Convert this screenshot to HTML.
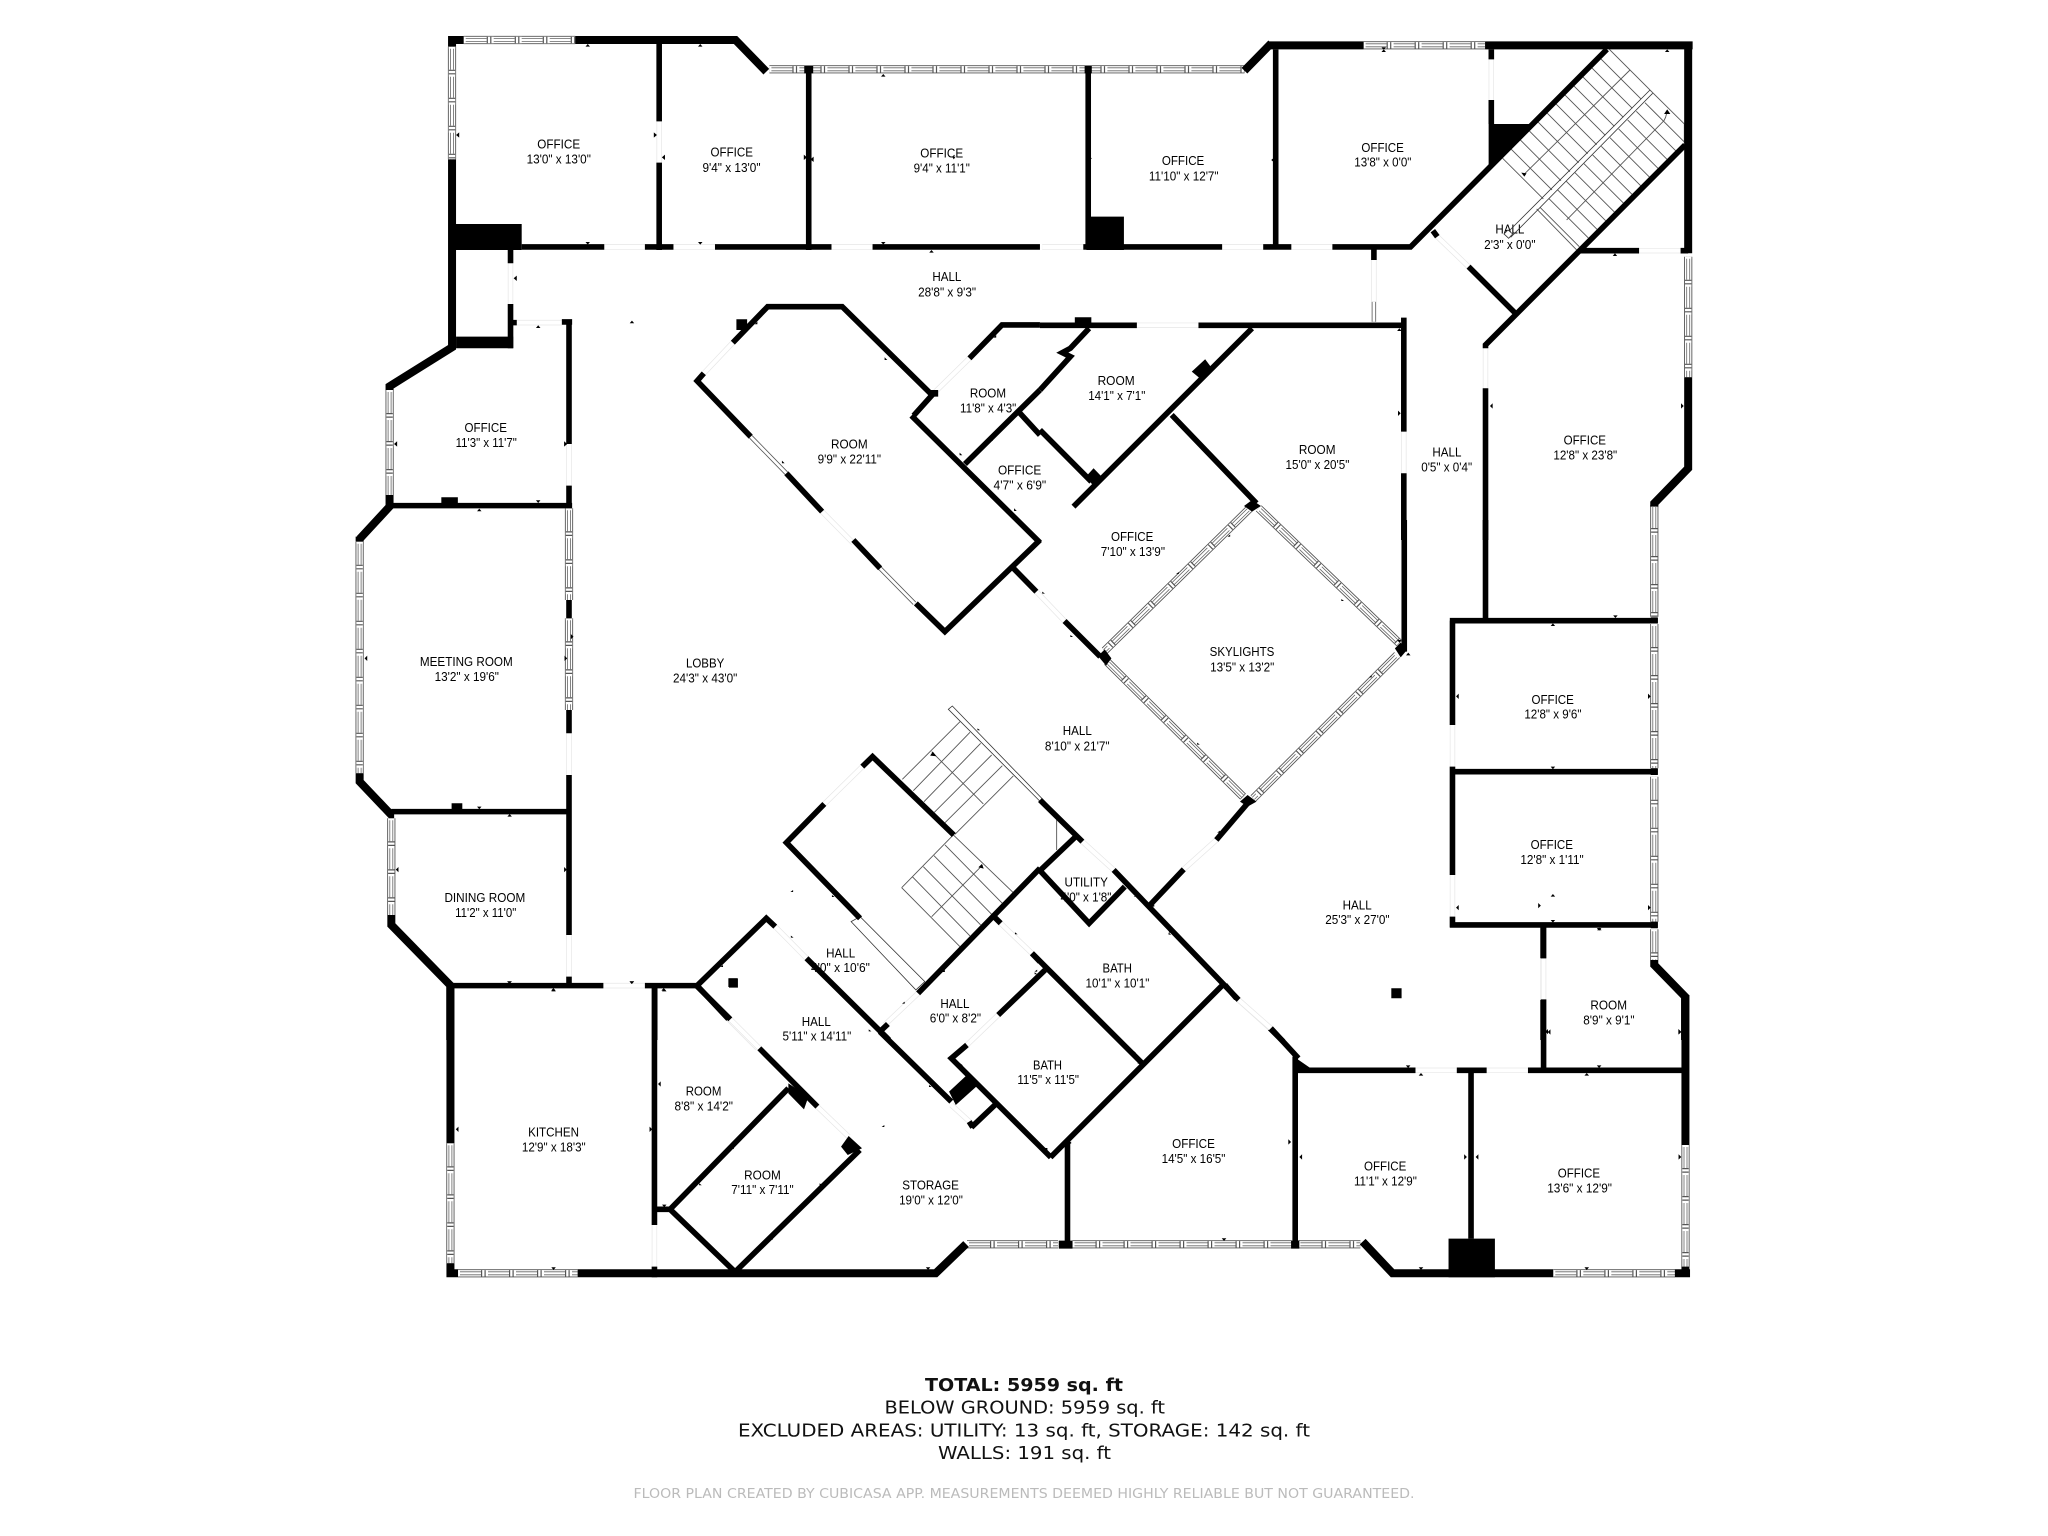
<!DOCTYPE html>
<html><head><meta charset="utf-8"><title>Floor plan</title>
<style>
html,body{margin:0;padding:0;background:#fff}
svg{display:block}
.o,.i,.h,.s,.dg,.dw{fill:none;vector-effect:non-scaling-stroke}
.o{stroke:#000;stroke-width:8}
.i{stroke:#000;stroke-width:5.6}
.h{stroke:#333;stroke-width:.8}
.s{stroke:#555;stroke-width:.9}
.dg{stroke:#e6e6e6;stroke-width:5.4}
.dw{stroke:#fff;stroke-width:4}
.t text{font-family:"Liberation Sans",sans-serif;font-size:39px;fill:#000}
.f text{font-family:"DejaVu Sans","Liberation Sans",sans-serif}
</style></head><body>
<svg xmlns="http://www.w3.org/2000/svg" width="2048" height="1536" viewBox="0 0 2048 1536">
<rect width="2048" height="1536" fill="#fff"/>
<defs>
<path id="w" d="M463.7 40H575.3M452 46.7V159.3M769.4 69.3H1244.5M1363.6 45.3H1485M1688.2 256.7V377.3M1654.3 505V616.7M1654.3 624V768.3M1654.3 776.7V921.7M1654.3 929.3V960M1685.5 1145V1266.7M1553.3 1273.3H1675M967 1244.3H1058M1072.5 1244.3H1291.5M1298.4 1244.3H1360.4M458 1273.3H577.7M450.4 1143.3V1263.3M391.3 818.3V915M359.6 541.7V773.3M389.6 390V495M569 508.3V600M569 618.3V710M1249.8 508.3L1104.7 650.7M1258.7 508.3L1399.4 643.3M1397.1 655L1253.4 798.3M1107 661.7L1243.1 796.7"/>
</defs>

<!-- labels -->
<g class="t" transform="translate(340,20) scale(.4464,.3333)">
<text x="442" y="385" textLength="96" lengthAdjust="spacingAndGlyphs">OFFICE</text><text x="418" y="431" textLength="144" lengthAdjust="spacingAndGlyphs">13'0" x 13'0"</text>
<text x="830" y="410" textLength="95" lengthAdjust="spacingAndGlyphs">OFFICE</text><text x="812" y="456" textLength="130" lengthAdjust="spacingAndGlyphs">9'4" x 13'0"</text>
<text x="1300" y="413" textLength="96" lengthAdjust="spacingAndGlyphs">OFFICE</text><text x="1285" y="457" textLength="126" lengthAdjust="spacingAndGlyphs">9'4" x 11'1"</text>
<text x="1327" y="783" textLength="65" lengthAdjust="spacingAndGlyphs">HALL</text><text x="1295" y="829" textLength="130" lengthAdjust="spacingAndGlyphs">28'8" x 9'3"</text>
<text x="279" y="1236" textLength="95" lengthAdjust="spacingAndGlyphs">OFFICE</text><text x="259" y="1281" textLength="137" lengthAdjust="spacingAndGlyphs">11'3" x 11'7"</text>
<text x="1100" y="1285" textLength="82" lengthAdjust="spacingAndGlyphs">ROOM</text><text x="1070" y="1330" textLength="142" lengthAdjust="spacingAndGlyphs">9'9" x 22'11"</text>
<text x="1411" y="1132" textLength="81" lengthAdjust="spacingAndGlyphs">ROOM</text><text x="1389" y="1177" textLength="126" lengthAdjust="spacingAndGlyphs">11'8" x 4'3"</text>
<text x="1474" y="1363" textLength="97" lengthAdjust="spacingAndGlyphs">OFFICE</text><text x="1464" y="1408" textLength="118" lengthAdjust="spacingAndGlyphs">4'7" x 6'9"</text>
</g>
<g class="t" transform="translate(1040,20) scale(.4464,.3333)">
<text x="273" y="435" textLength="95" lengthAdjust="spacingAndGlyphs">OFFICE</text><text x="244" y="481" textLength="156" lengthAdjust="spacingAndGlyphs">11'10" x 12'7"</text>
<text x="720" y="396" textLength="95" lengthAdjust="spacingAndGlyphs">OFFICE</text><text x="704" y="439" textLength="128" lengthAdjust="spacingAndGlyphs">13'8" x 0'0"</text>
<text x="1020" y="641" textLength="65" lengthAdjust="spacingAndGlyphs">HALL</text><text x="995" y="687" textLength="115" lengthAdjust="spacingAndGlyphs">2'3" x 0'0"</text>
<text x="129" y="1095" textLength="83" lengthAdjust="spacingAndGlyphs">ROOM</text><text x="108" y="1140" textLength="128" lengthAdjust="spacingAndGlyphs">14'1" x 7'1"</text>
<text x="580" y="1302" textLength="82" lengthAdjust="spacingAndGlyphs">ROOM</text><text x="550" y="1347" textLength="143" lengthAdjust="spacingAndGlyphs">15'0" x 20'5"</text>
<text x="879" y="1310" textLength="65" lengthAdjust="spacingAndGlyphs">HALL</text><text x="854" y="1355" textLength="114" lengthAdjust="spacingAndGlyphs">0'5" x 0'4"</text>
<text x="1173" y="1274" textLength="95" lengthAdjust="spacingAndGlyphs">OFFICE</text><text x="1150" y="1319" textLength="143" lengthAdjust="spacingAndGlyphs">12'8" x 23'8"</text>
</g>
<g class="t" transform="translate(340,520) scale(.4464,.3333)">
<text x="179" y="438" textLength="208" lengthAdjust="spacingAndGlyphs">MEETING ROOM</text><text x="212" y="483" textLength="144" lengthAdjust="spacingAndGlyphs">13'2" x 19'6"</text>
<text x="775" y="442" textLength="86" lengthAdjust="spacingAndGlyphs">LOBBY</text><text x="746" y="487" textLength="144" lengthAdjust="spacingAndGlyphs">24'3" x 43'0"</text>
<text x="234" y="1146" textLength="181" lengthAdjust="spacingAndGlyphs">DINING ROOM</text><text x="258" y="1191" textLength="137" lengthAdjust="spacingAndGlyphs">11'2" x 11'0"</text>
<text x="1089" y="1312" textLength="65" lengthAdjust="spacingAndGlyphs">HALL</text><text x="1055" y="1356" textLength="132" lengthAdjust="spacingAndGlyphs">4'0" x 10'6"</text>
<text x="1345" y="1464" textLength="65" lengthAdjust="spacingAndGlyphs">HALL</text><text x="1321" y="1508" textLength="115" lengthAdjust="spacingAndGlyphs">6'0" x 8'2"</text>
</g>
<g class="t" transform="translate(1040,520) scale(.4464,.3333)">
<text x="159" y="63" textLength="95" lengthAdjust="spacingAndGlyphs">OFFICE</text><text x="136" y="108" textLength="144" lengthAdjust="spacingAndGlyphs">7'10" x 13'9"</text>
<text x="380" y="408" textLength="145" lengthAdjust="spacingAndGlyphs">SKYLIGHTS</text><text x="381" y="454" textLength="144" lengthAdjust="spacingAndGlyphs">13'5" x 13'2"</text>
<text x="51" y="645" textLength="65" lengthAdjust="spacingAndGlyphs">HALL</text><text x="11" y="691" textLength="145" lengthAdjust="spacingAndGlyphs">8'10" x 21'7"</text>
<text x="1101" y="552" textLength="95" lengthAdjust="spacingAndGlyphs">OFFICE</text><text x="1085" y="596" textLength="128" lengthAdjust="spacingAndGlyphs">12'8" x 9'6"</text>
<text x="1099" y="987" textLength="95" lengthAdjust="spacingAndGlyphs">OFFICE</text><text x="1076" y="1032" textLength="142" lengthAdjust="spacingAndGlyphs">12'8" x 1'11"</text>
<text x="678" y="1168" textLength="65" lengthAdjust="spacingAndGlyphs">HALL</text><text x="639" y="1212" textLength="144" lengthAdjust="spacingAndGlyphs">25'3" x 27'0"</text>
<text x="55" y="1099" textLength="97" lengthAdjust="spacingAndGlyphs">UTILITY</text><text x="46" y="1144" textLength="114" lengthAdjust="spacingAndGlyphs">4'0" x 1'8"</text>
<text x="140" y="1358" textLength="66" lengthAdjust="spacingAndGlyphs">BATH</text><text x="102" y="1403" textLength="143" lengthAdjust="spacingAndGlyphs">10'1" x 10'1"</text>
<text x="1233" y="1468" textLength="82" lengthAdjust="spacingAndGlyphs">ROOM</text><text x="1217" y="1513" textLength="115" lengthAdjust="spacingAndGlyphs">8'9" x 9'1"</text>
</g>
<g class="t" transform="translate(400,920) scale(.4464,.3333)">
<text x="900" y="318" textLength="65" lengthAdjust="spacingAndGlyphs">HALL</text><text x="857" y="362" textLength="154" lengthAdjust="spacingAndGlyphs">5'11" x 14'11"</text>
<text x="640" y="527" textLength="80" lengthAdjust="spacingAndGlyphs">ROOM</text><text x="615" y="571" textLength="131" lengthAdjust="spacingAndGlyphs">8'8" x 14'2"</text>
<text x="287" y="650" textLength="114" lengthAdjust="spacingAndGlyphs">KITCHEN</text><text x="273" y="695" textLength="143" lengthAdjust="spacingAndGlyphs">12'9" x 18'3"</text>
<text x="771" y="778" textLength="82" lengthAdjust="spacingAndGlyphs">ROOM</text><text x="742" y="822" textLength="140" lengthAdjust="spacingAndGlyphs">7'11" x 7'11"</text>
<text x="1125" y="808" textLength="127" lengthAdjust="spacingAndGlyphs">STORAGE</text><text x="1118" y="854" textLength="143" lengthAdjust="spacingAndGlyphs">19'0" x 12'0"</text>
<text x="1418" y="448" textLength="65" lengthAdjust="spacingAndGlyphs">BATH</text><text x="1383" y="492" textLength="138" lengthAdjust="spacingAndGlyphs">11'5" x 11'5"</text>
</g>
<g class="t" transform="translate(1000,920) scale(.4591,.3333)">
<text x="375" y="684" textLength="93" lengthAdjust="spacingAndGlyphs">OFFICE</text><text x="352" y="729" textLength="139" lengthAdjust="spacingAndGlyphs">14'5" x 16'5"</text>
<text x="793" y="751" textLength="92" lengthAdjust="spacingAndGlyphs">OFFICE</text><text x="771" y="796" textLength="137" lengthAdjust="spacingAndGlyphs">11'1" x 12'9"</text>
<text x="1215" y="772" textLength="92" lengthAdjust="spacingAndGlyphs">OFFICE</text><text x="1192" y="817" textLength="141" lengthAdjust="spacingAndGlyphs">13'6" x 12'9"</text>
</g>

<!-- windows -->
<g fill="none">
<use href="#w" stroke="#555" stroke-width="8.2"/>
<use href="#w" stroke="#fff" stroke-width="6.4"/>
<use href="#w" stroke="#666" stroke-width="3.8"/>
<use href="#w" stroke="#fff" stroke-width="2.2"/>
<use href="#w" stroke="#fff" stroke-width="6.4" stroke-dasharray="7 21" stroke-dashoffset="5"/>
<use href="#w" stroke="#555" stroke-width="6.4" stroke-dasharray="1.2 2.3 1.2 23.3" stroke-dashoffset="5"/>
<path d="M750.7 436.7L786.4 473.3M880.1 568.3L914.5 603.3M1373.9 301.7V321.7" stroke="#555" stroke-width="4.4"/>
<path d="M750.7 436.7L786.4 473.3M880.1 568.3L914.5 603.3M1373.9 301.7V321.7" stroke="#fff" stroke-width="2.8"/>
</g>

<!-- upper-right stair -->
<g transform="translate(1440,30) scale(.3333)">
<path class="s" d="M508 58l122 122M481 85l122 122M455 113l122 122M428 140l122 122M401 167l122 122M374 194l122 122M348 222l122 122M321 249l122 122M294 276l122 122M268 303l122 122M241 330l122 122M214 358l122 122M188 385l122 122M570 120L250 435M615 218l118 118M589 244l118 118M563 270l118 118M536 297l118 118M510 323l118 118M484 349l118 118M458 375l118 118M432 401l118 118M405 428l118 118M379 454l118 118M353 480l118 118M327 506l118 118M300 532l118 118M290 537L410 660M380 570L672 272Q678 262 680 250M630 180L733 282M733 282V340"/>
<path class="h" d="M630 180L195 615M638 190L212 622"/>
<path d="M192 612L204 600L218 612L206 625z" fill="#fff" stroke="#333" stroke-width=".8" vector-effect="non-scaling-stroke"/>
</g>

<!-- middle stair -->
<g transform="translate(890,700) scale(.3333)">
<path class="s" d="M37 238L210 65M70 272L240 97M102 305L272 130M133 337L305 165M165 368L337 197M195 403L370 228M125 155L280 312M35 563L210 740M67 530L240 708M100 500L272 675M132 467L305 643M165 435L337 610M35 563L190 405M190 405L370 578M125 650L278 495M500 360V450"/>
<path class="h" d="M175 28L187 18L465 305L458 312z"/>
</g>

<!-- Z1 -->
<g transform="translate(340,20) scale(.4464,.3333)">
<path class="dg" d="M592,681H683M747,681H840M1101,681H1193M715,304V428M382,730V852M513,1272V1397M396,908H497M815,1060L880,968M1330,1120L1410,1015M1080,1475L1150,1570"/>
<path class="dw" d="M592,681H683M747,681H840M1101,681H1193M715,304V428M382,730V852M513,1272V1397M396,908H497M815,1060L880,968M1330,1120L1410,1015M1080,1475L1150,1570"/>
<path class="o" d="M243,60H277M527,60H886L955,155M251,48V80M251,418V982L111,1099V1110M111,1425V1460L44,1557"/>
<path class="i" d="M407,681H592M683,681H747M840,681H1101M1193,681H1568M715,72V304M715,428V690M1050,150V690M382,690V730M382,852V985M382,908H396M497,906H520M513,900V1272M513,1397V1465M111,1457H520M880,968L958,860H1125L1330,1130M815,1060L800,1083L920,1250M1000,1360L1080,1475M1280,1187L1568,1568M1330,1120L1285,1187M1410,1015L1483,915H1568M1400,1332L1568,1110M1520,1175L1568,1245"/>
<path d="M243,612h164v78h-164zM260,950h128v35h-128zM227,1432h37v18h-37zM1040,138h20v22h-20zM888,898h24v32h-24zM1318,1110h22v20h-22z"/>
<path d="M555,72l-5,8h10zM807,72l-5,8h10zM1217,162l-5,8h10zM1325,690l-5,8h10zM654,902l-5,8h10zM444,916l-5,8h10zM312,1466l-5,8h10zM555,674l-5,-8h10zM807,674l-5,-8h10zM1217,674l-5,-8h10zM444,1449l-5,-8h10zM260,345l7,-8v16zM710,345l-7,-8v16zM721,412l7,-8v16zM1046,412l-7,-8v16zM1054,418l7,-8v16zM389,775l7,-8v16zM121,1272l7,-8v16zM509,1272l-7,-8v16zM1220,1012l6,8h-6zM935,905l-6,8h6zM1470,945l-6,8h6zM1388,1298l6,8h-6zM1462,1255l-6,8h6zM1510,1465l6,8h-6zM990,1322l6,8h-6zM1375,418l-4,-8h8z"/>
</g>

<!-- Z2 -->
<g transform="translate(1040,20) scale(.4464,.3333)">
<path class="dg" d="M5,681H97M408,681H500M563,681H655M1011,118V240M890,650L960,740M998,985V1105M1342,692H1435M217,916H355M815,1235V1360M748,720V845"/>
<path class="dw" d="M5,681H97M408,681H500M563,681H655M1011,118V240M890,650L960,740M998,985V1105M1342,692H1435M217,916H355M815,1235V1360M748,720V845"/>
<path class="o" d="M512,76H725M997,76H1462M458,152L518,70M1452,65V700M1452,1072V1345L1376,1450V1460"/>
<path class="i" d="M108,140V685M528,88V680M97,681H408M500,681H563M655,681H830L1270,88M1011,88V118M1011,240V312M880,632L890,650M960,740L1065,880M1445,375L998,975V985M998,1105V1560M1210,692H1342M1435,692H1452M748,688V720M0,916H217M355,916H815M815,893V1235M815,1360V1560M110,925L68,985L50,998L68,1010L0,1110M475,925L75,1460M295,1185L485,1450M0,1230L115,1385"/>
<path d="M100,138h16v22h-16zM104,590h84v100h-84zM78,892h37v23h-37zM1005,312h95L1005,435zM340,1055L370,1018L388,1050L358,1075zM103,1370L120,1345L138,1370L118,1395zM457,1458L475,1440L495,1458L475,1475z"/>
<path d="M1405,268l7,14l-14,0zM1085,470l-7,-12l12,2zM770,88l-5,8h10zM770,90l-5,-8h10zM518,420l7,-8v16zM116,415l-7,-8v16zM1405,88l-5,8h10zM1288,700l-5,8h10zM517,672l-5,8h10zM1008,1158l6,-8v16zM1442,1158l-6,-8v16zM808,1180l-6,-8v16zM805,925l-5,8h10z"/>
</g>

<!-- Z3 -->
<g transform="translate(340,520) scale(.4464,.3333)">
<path class="h" d="M1145,1205L1165,1190L1310,1385L1290,1410z"/>
<path class="dg" d="M513,640V765M513,1245V1370M590,1397H683M975,1220L1045,1315M870,1497L935,1585M1295,1420L1220,1515M1480,1210L1550,1300M1085,852L1170,740M1560,215L1623,303"/>
<path class="dw" d="M513,640V765M513,1245V1370M590,1397H683M975,1220L1045,1315M870,1497L935,1585M1295,1420L1220,1515M1480,1210L1550,1300M1085,852L1170,740M1560,215L1623,303"/>
<path class="o" d="M44,50V65M44,760V785L115,885M115,1185V1215L250,1400M247,1395V1560"/>
<path class="i" d="M115,875V895M115,875H513M513,240V295M513,570V640M513,765V1245M513,1370V1405M250,1397H590M683,1397H800M705,1397V1560M1150,60L1210,145M1290,250L1355,335L1568,60M1505,140L1560,215M1085,852L1000,968L1165,1195M1170,740L1193,710L1375,945M1295,1420L1568,1045M1465,1190L1480,1210M1550,1300L1568,1325M800,1397L955,1195L975,1220M1045,1315L1230,1560M800,1397L870,1497"/>
<path d="M250,850h24v18h-24zM870,1375h20v26h-20z"/>
<path d="M1328,695l8,14l-14,-2zM1438,1032l4,14l-12,-4zM312,868l-5,-8h10zM380,882l-5,8h10zM380,1392l-5,-8h10zM478,1404l-5,8h10zM654,1392l-5,-8h10zM725,1404l-5,8h10zM523,350l-6,-8v16zM509,415l-6,-8v16zM55,415l6,-8v16zM125,1049l6,-8v16zM508,1049l-6,-8v16zM1428,625l6,6h-6zM1015,1110l-6,6h6zM1102,1125l6,6h-6zM1010,1247l6,6h-6zM858,1335l-6,6h6zM1355,1350l-6,6h6zM1265,1445l-6,6h6zM1512,1237l6,6h-6zM1556,1357l6,6h-6z"/>
</g>

<!-- Z4 -->
<g transform="translate(1040,520) scale(.4464,.3333)">
<path class="dg" d="M95,965L165,1050M395,960L322,1048M445,1440L515,1525M924,615V740M924,1065V1190M1127,1315V1440"/>
<path class="dw" d="M95,965L165,1050M395,960L322,1048M445,1440L515,1525M924,615V740M924,1065V1190M1127,1315V1440"/>
<path class="o" d="M1376,1320V1335L1445,1430V1560"/>
<path class="i" d="M998,0V300M918,302H1384M924,302V615M924,740V1065M924,1190V1222M918,755H1384M918,1215H1384M1127,1222V1315M1127,1440V1560M816,0V395M55,303L135,410M465,850L395,960M322,1048L245,1157M0,840L95,965M165,1050L445,1440M515,1525L545,1565M80,950L0,1052L110,1210L190,1100M-18,1300L229,1630"/>
<path d="M1368,292h16v18h-16zM1368,745h16v20h-16zM1368,1205h16v20h-16zM795,385L808,368L822,390L808,412zM130,408L145,388L160,415L148,437zM448,845L465,825L485,845L465,860zM787,1405h23v30h-23z"/>
<path d="M1289,294l-5,-8h10zM1149,310l-5,8h10zM1149,748l-5,-8h10zM1149,1208l-5,-8h10zM1253,1223l-5,8h10zM1149,1122l-5,8h10zM932,529l6,-8v16zM1368,529l-6,-8v16zM932,1163l6,-8v16zM1368,1163l-6,-8v16zM1122,1157l-6,-8v16zM1436,1535l-6,-8v16zM1132,1535l6,-8v16zM825,398l-5,8h10zM805,368l-5,-8h10zM420,50l6,-6v6zM305,162l6,-6v6zM675,237l6,6h-6zM352,668l6,6h-6zM737,472l6,-6v6zM68,345l6,6h-6zM5,215l6,6h-6zM397,938l6,-6v6zM250,1160l6,-6v6zM288,1238l6,6h-6zM210,1130l6,-6v6z"/>
</g>

<!-- Z5 -->
<g transform="translate(400,920) scale(.4464,.3333)">
<path class="dg" d="M570,915V1040M740,298L805,385M935,560L1005,650M1340,285L1270,375M1235,555L1280,610"/>
<path class="dw" d="M570,915V1040M740,298L805,385M935,560L1005,650M1340,285L1270,375M1235,555L1280,610"/>
<path class="o" d="M113,200V670M113,1030V1072M105,1060H130M398,1060H1200L1268,972"/>
<path class="i" d="M570,200V915M570,1040V1072M570,868H605L750,1055M605,868L870,505M755,1050L1030,690M665,198L740,298M805,385L935,560M1093,312L1075,335M1075,335L1235,545M1270,375L1235,415L1458,712M1445,150L1340,285M1280,622L1335,552M1275,605L1283,622"/>
<path d="M1230,515L1270,465L1295,495L1245,555zM870,490L915,530L905,568L870,520zM1005,648L1035,685L1003,705L988,680zM737,175h20v28h-20z"/>
<path d="M245,192l-5,-8h10zM344,206l-5,8h10zM519,192l-5,-8h10zM592,206l-5,8h10zM344,1050l-5,-8h10zM592,862l-5,-8h10zM1183,1050l-5,-8h10zM578,492l6,-8v16zM125,628l6,-8v16zM565,628l-6,-8v16zM1085,615l-6,6h6zM940,790l6,6h-6zM835,960l-6,-6h6zM670,790l6,6h-6zM748,688l-6,-6h6zM1050,328l6,6h-6zM1185,495l6,6h-6zM1255,430l6,6h-6zM1450,690l-6,-6h6z"/>
</g>

<!-- Z6 -->
<g transform="translate(1000,920) scale(.4591,.3333)">
<path class="dg" d="M905,451H995M1060,451H1150M1184,115V238M520,240L590,325"/>
<path class="dw" d="M905,451H995M1060,451H1150M1184,115V238M520,240L590,325"/>
<path class="o" d="M790,965L855,1060H1205M1470,1060H1503M1493,225V675M1493,1040V1072"/>
<path class="i" d="M645,451H905M995,451H1060M1150,451H1490M1184,20V115M1184,238V445M643,410V985M1026,458V956M590,325L650,415M147,665V965M490,195L515,235M485,195L110,712"/>
<path d="M977,956h101v116h-101zM128,962h30v24h-30zM634,962h18v24h-18zM638,408L677,445L638,460z"/>
<path d="M889,444l-5,-8h10zM917,459l-5,8h10zM1305,444l-5,-8h10zM1278,459l-5,8h10zM1305,32l-5,-8h10zM917,1050l-5,-8h10zM1278,1050l-5,-8h10zM488,963l-5,-8h10zM1193,336l6,-8v16zM1484,336l-6,-8v16zM634,666l-6,-8v16zM652,711l6,-8v16zM1017,711l-6,-8v16zM1036,711l6,-8v16zM1484,711l-6,-8v16zM290,392l6,6h-6zM300,425l6,6h-6zM103,690l-6,-6h6zM155,665l-6,6h6zM368,32l6,6h-6zM75,155l6,-6v6z"/>
</g>

<!-- footer -->
<g class="f" fill="#111">
<text x="925" y="1391" font-size="18" font-weight="700" textLength="198" lengthAdjust="spacingAndGlyphs">TOTAL: 5959 sq. ft</text>
<text x="884.5" y="1413.5" font-size="18" textLength="280.5" lengthAdjust="spacingAndGlyphs">BELOW GROUND: 5959 sq. ft</text>
<text x="738" y="1436.5" font-size="18" textLength="572" lengthAdjust="spacingAndGlyphs">EXCLUDED AREAS: UTILITY: 13 sq. ft, STORAGE: 142 sq. ft</text>
<text x="938" y="1459" font-size="18" textLength="173" lengthAdjust="spacingAndGlyphs">WALLS: 191 sq. ft</text>
<text x="633.5" y="1498" font-size="13" fill="#bbb" textLength="781" lengthAdjust="spacingAndGlyphs">FLOOR PLAN CREATED BY CUBICASA APP. MEASUREMENTS DEEMED HIGHLY RELIABLE BUT NOT GUARANTEED.</text>
</g>
</svg>
</body></html>
